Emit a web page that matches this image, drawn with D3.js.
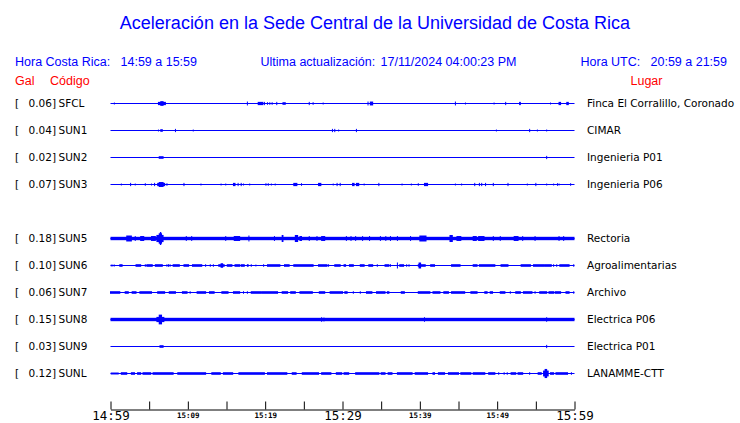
<!DOCTYPE html>
<html><head><meta charset="utf-8">
<script src="https://cdn.jsdelivr.net/npm/d3@7"></script>
<style>body{margin:0;background:#fff}svg{display:block}</style>
</head><body><svg id="c" width="740" height="423"></svg>
<script>
// ---------- data ----------
const title = "Aceleración en la Sede Central de la Universidad de Costa Rica";
const headerLocal = ["Hora Costa Rica:", "14:59 a 15:59"];
const headerUpdate = ["Ultima actualización:", "17/11/2024 04:00:23 PM"];
const headerUTC = ["Hora UTC:", "20:59 a 21:59"];
const slots = ["SFCL","SUN1","SUN2","SUN3","","SUN5","SUN6","SUN7","SUN8","SUN9","SUNL"];
const gal = [0.06,0.04,0.02,0.07,null,0.18,0.10,0.06,0.15,0.03,0.12];
const places = ["Finca El Corralillo, Coronado","CIMAR","Ingenieria P01","Ingenieria P06","","Rectoria","Agroalimentarias","Archivo","Electrica P06","Electrica P01","LANAMME-CTT"];
// background noise level (relative amplitude) of each trace
const noise = [0,0,0,0,0,0.26,0,0,0.26,0,0];
// axis: minutes after 14:59
const tickMinutes = [0,5,10,15,20,25,30,35,40,45,50,55,60];
const tickLabels = ["14:59","","15:09","","15:19","","15:29","","15:39","","15:49","","15:59"];
const majorLabels = ["14:59","15:29","15:59"];

// events: [start minute, end minute, relative amplitude]
const evSFCL = [[0.5,0.5,.15],[6.2,7.1,.25],[6.5,6.8,.36],[17.7,17.7,.3],[19.1,19.7,.25],[19.9,19.9,.25],[20.3,20.3,.2],[20.6,20.6,.2],[20.9,20.9,.2],[21.5,21.5,.25],[22.3,22.6,.2],[25.7,25.7,.25],[26.2,26.2,.2],[27.5,27.5,.15],[33.3,33.3,.3],[33.6,33.9,.3],[44.6,44.6,.3],[45.9,45.9,.15],[49.6,49.6,.15],[51.1,51.1,.25],[52.9,53.0,.25],[56.9,56.9,.15],[58.0,58.2,.25],[59.0,59.2,.25]];
const evSUN1 = [[6.2,6.2,.15],[6.5,6.7,.2],[8.4,8.4,.25],[10.7,10.7,.15],[28.7,28.7,.25],[29.0,29.0,.25],[29.5,29.5,.15],[31.8,31.8,.25],[49.9,49.9,.15],[54.2,54.2,.25],[55.2,55.2,.15],[56.4,56.4,.15]];
const evSUN2 = [[6.3,6.8,.2],[56.4,56.4,.25]];
const evSUN3 = [[1.4,1.4,.15],[2.6,2.6,.25],[3.2,3.2,.15],[4.5,4.5,.2],[5.3,5.3,.15],[5.7,5.7,.25],[6.1,7.0,.25],[6.3,6.8,.38],[7.3,7.3,.2],[9.5,9.5,.25],[11.7,11.7,.15],[14.3,14.3,.15],[14.9,14.9,.15],[15.9,16.1,.25],[16.5,16.5,.25],[16.9,16.9,.25],[17.2,17.2,.15],[18.0,18.0,.15],[20.1,20.1,.2],[20.4,20.4,.2],[20.8,20.8,.15],[21.3,21.3,.15],[23.7,24.1,.25],[24.7,24.7,.2],[26.9,27.2,.25],[28.8,28.8,.15],[29.3,29.3,.25],[29.7,29.7,.25],[31.3,31.5,.25],[31.8,32.1,.25],[32.8,32.8,.15],[34.7,34.7,.25],[37.7,37.7,.15],[38.9,38.9,.15],[39.8,39.8,.2],[40.6,41.0,.25],[44.6,44.6,.15],[45.4,45.4,.15],[47.1,47.1,.25],[47.7,47.7,.25],[48.0,48.0,.25],[48.5,48.5,.25],[49.5,49.5,.25],[51.4,51.4,.25],[53.9,53.9,.15],[55.0,55.0,.25],[56.4,56.4,.15],[57.3,57.3,.15],[57.8,57.8,.2],[58.0,58.0,.15],[59.5,59.5,.2]];
const evSUN5 = [[2.1,2.7,.46],[3.2,3.2,.38],[3.9,4.3,.38],[5.3,5.8,.38],[6.0,6.8,.55],[6.3,6.6,.8],[6.45,6.5,1.0],[9.8,9.8,.38],[10.5,10.5,.38],[14.9,14.9,.38],[16.0,16.7,.38],[17.9,17.9,.46],[21.2,21.2,.38],[22.2,22.3,.54],[23.9,24.2,.54],[24.5,24.7,.38],[25.7,25.7,.38],[26.7,26.7,.38],[27.3,27.7,.38],[30.5,30.5,.38],[31.1,31.1,.38],[31.7,31.7,.38],[32.6,32.6,.38],[33.5,33.5,.38],[34.9,34.9,.38],[35.6,35.6,.38],[36.2,36.2,.38],[37.1,37.1,.38],[38.8,38.8,.38],[40.0,40.8,.46],[43.9,44.2,.54],[44.8,45.3,.38],[46.9,47.3,.38],[47.6,48.3,.38],[49.5,49.5,.38],[50.4,50.4,.38],[52.2,52.7,.38],[53.3,53.3,.38],[54.9,54.9,.38],[58.0,58.0,.38],[58.6,58.6,.38]];
const evSUN6 = [[0.1,0.1,.15],[0.3,0.3,.15],[0.5,0.5,.15],[1.2,1.5,.2],[3.3,3.9,.2],[4.5,4.5,.2],[4.7,5.4,.2],[5.8,6.7,.2],[7.3,7.3,.2],[7.5,7.5,.2],[7.7,7.7,.2],[8.1,8.9,.2],[9.5,10.1,.2],[10.6,11.8,.2],[12.3,12.3,.2],[12.9,12.9,.2],[13.3,13.3,.2],[14.0,14.7,.2],[14.3,14.5,.35],[15.1,15.7,.2],[16.1,16.7,.2],[16.9,17.3,.2],[17.7,17.8,.2],[18.2,18.2,.2],[18.8,18.8,.15],[19.8,19.8,.2],[20.3,21.9,.2],[22.5,23.1,.2],[23.7,26.2,.2],[26.9,28.0,.2],[28.2,28.2,.2],[29.0,29.7,.2],[30.2,30.4,.2],[30.9,31.4,.2],[32.3,32.8,.2],[33.4,33.9,.2],[34.5,34.5,.2],[35.5,36.0,.2],[36.2,36.2,.2],[37.1,37.1,.46],[37.4,37.9,.2],[38.3,38.3,.2],[38.6,38.6,.2],[39.8,40.7,.2],[39.9,40.1,.46],[41.4,41.9,.2],[44.1,45.2,.2],[46.9,47.4,.2],[47.7,49.7,.2],[50.5,51.4,.2],[53.1,54.3,.2],[54.7,56.1,.2],[56.2,57.0,.2],[57.3,57.3,.2],[57.7,57.7,.2],[58.1,59.3,.2],[59.9,59.9,.2]];
const evSUN7 = [[0.0,1.2,.2],[1.9,2.3,.2],[2.8,3.3,.2],[3.8,5.3,.2],[6.1,7.0,.2],[7.6,8.4,.2],[9.3,9.9,.2],[10.3,10.3,.2],[11.2,12.3,.2],[12.8,13.4,.2],[14.4,15.2,.2],[15.9,16.7,.2],[17.2,17.2,.2],[17.7,17.7,.2],[18.2,19.5,.2],[19.6,21.6,.2],[22.2,22.9,.2],[23.3,23.9,.2],[24.5,26.1,.2],[27.0,27.7,.2],[28.4,30.0,.2],[30.3,30.6,.2],[31.4,31.4,.2],[32.3,32.3,.2],[33.1,33.8,.2],[34.4,35.5,.2],[35.8,36.0,.2],[37.6,38.0,.2],[39.8,41.3,.2],[41.7,42.6,.2],[43.1,43.7,.2],[44.1,45.8,.2],[46.6,47.4,.2],[48.4,48.7,.2],[49.1,49.4,.2],[50.4,51.0,.2],[51.7,51.7,.2],[52.4,53.0,.2],[53.4,54.5,.2],[54.9,54.9,.2],[55.5,56.4,.2],[56.7,57.3,.2],[57.5,58.2,.2],[58.9,59.3,.2],[59.9,59.9,.2]];
const evSUN8 = [[6.0,6.9,.4],[6.3,6.6,.75],[27.3,27.3,.35],[27.6,27.6,.3],[40.6,40.6,.35],[56.4,56.4,.35]];
const evSUN9 = [[6.4,6.8,.2],[56.4,56.4,.25]];
const evSUNL = [[0.1,1.0,.15],[1.4,2.1,.2],[2.7,3.1,.2],[3.5,3.9,.2],[4.2,5.2,.2],[5.5,8.1,.2],[8.7,12.3,.2],[13.1,14.2,.2],[14.6,15.8,.2],[16.6,19.9,.2],[20.3,22.8,.2],[23.5,24.0,.2],[24.8,26.9,.2],[27.3,28.5,.2],[29.2,29.9,.2],[30.2,30.8,.2],[31.7,34.7,.2],[35.0,35.5,.2],[35.9,36.4,.2],[37.1,39.0,.2],[39.4,41.0,.2],[41.7,41.9,.2],[42.4,43.2,.2],[43.7,45.0,.2],[45.3,46.6,.2],[46.9,48.4,.2],[48.9,49.7,.2],[50.2,50.2,.2],[50.9,50.9,.2],[51.3,51.3,.2],[51.8,52.4,.2],[52.7,53.3,.2],[54.2,54.2,.2],[55.3,55.7,.2],[56.0,56.6,.45],[56.2,56.4,.7],[56.9,57.3,.2],[57.6,59.1,.2],[59.6,59.6,.2]];
const events = [evSFCL, evSUN1, evSUN2, evSUN3, [], evSUN5, evSUN6, evSUN7, evSUN8, evSUN9, evSUNL];

// ---------- drawing ----------
const BLUE = "#0000ff", RED = "#ff0000";
const svg = d3.select("#c");
const x = d3.scaleLinear().domain([0, 60]).range([110.5, 574.5]);
const y = d3.scalePoint().domain(d3.range(slots.length)).range([103.5, 373.5]);
const amp = d3.scaleLinear().domain([0, 1]).range([0, 6.5]);

svg.append("text").attr("x", 375).attr("y", 29).attr("text-anchor", "middle")
  .attr("font-family", "Liberation Sans, Arial, sans-serif").attr("font-size", 18)
  .attr("fill", BLUE).text(title);

const hdr = svg.append("g").attr("font-family", "Liberation Sans, Arial, sans-serif")
  .attr("font-size", 12.5).attr("fill", BLUE);
hdr.append("text").attr("x", 15).attr("y", 65.5).text(headerLocal[0]);
hdr.append("text").attr("x", 120.5).attr("y", 65.5).text(headerLocal[1]);
hdr.append("text").attr("x", 260.5).attr("y", 65.5).text(headerUpdate[0]);
hdr.append("text").attr("x", 380.5).attr("y", 65.5).text(headerUpdate[1]);
hdr.append("text").attr("x", 580.5).attr("y", 65.5).text(headerUTC[0]);
hdr.append("text").attr("x", 650.5).attr("y", 65.5).text(headerUTC[1]);

const red = svg.append("g").attr("font-family", "Liberation Sans, Arial, sans-serif")
  .attr("font-size", 12.5).attr("fill", RED);
red.append("text").attr("x", 15).attr("y", 85).text("Gal");
red.append("text").attr("x", 50).attr("y", 85).text("Código");
red.append("text").attr("x", 630.5).attr("y", 85).text("Lugar");

const rows = svg.append("g").selectAll("g").data(slots.map((s, i) => i).filter(i => slots[i] !== ""))
  .join("g");

const lab = rows.append("g").attr("font-family", "DejaVu Sans, sans-serif").attr("font-size", 10.5).attr("fill", "#000");
lab.append("text").attr("x", 15).attr("y", i => y(i) + 3.7).text("[");
lab.append("text").attr("x", 56).attr("y", i => y(i) + 3.7).attr("text-anchor", "end").text(i => gal[i].toFixed(2) + "]");
lab.append("text").attr("x", 58.5).attr("y", i => y(i) + 3.7).text(i => slots[i]);
lab.append("text").attr("x", 587).attr("y", i => y(i) + 3.7).text(i => places[i]);

// baseline
rows.append("line").attr("x1", x(0)).attr("x2", x(60)).attr("y1", i => y(i)).attr("y2", i => y(i))
  .attr("stroke", BLUE).attr("stroke-width", 1.2);
// noise band
rows.filter(i => noise[i] > 0).append("rect")
  .attr("x", x(0)).attr("width", x(60) - x(0))
  .attr("y", i => y(i) - amp(noise[i])).attr("height", i => 2 * amp(noise[i]))
  .attr("fill", BLUE);
// events
rows.each(function(i) {
  d3.select(this).append("g").selectAll("rect").data(events[i]).join("rect")
    .attr("x", d => x(d[0]) - 0.5)
    .attr("width", d => Math.max(1, x(d[1]) - x(d[0]) + 1))
    .attr("y", d => y(i) - amp(d[2]))
    .attr("height", d => 2 * amp(d[2]))
    .attr("fill", BLUE);
});

// axis
const axis = d3.axisBottom(x).tickValues(tickMinutes).tickSize(-8).tickSizeOuter(0)
  .tickFormat((d, i) => tickLabels[i]);
const ag = svg.append("g").attr("transform", "translate(0,409.5)").call(axis);
ag.select(".domain").attr("stroke", "#000");
ag.selectAll(".tick line").attr("stroke", "#000");
const isMajor = t => majorLabels.includes(tickLabels[tickMinutes.indexOf(t)]);
ag.selectAll(".tick text").attr("fill", "#000").attr("dy", null)
  .attr("font-family", "DejaVu Sans Mono, monospace")
  .attr("font-weight", t => isMajor(t) ? "normal" : "bold")
  .attr("font-size", t => isMajor(t) ? 12.5 : 7.5)
  .attr("y", t => isMajor(t) ? 10.5 : 8);
</script></body></html>
